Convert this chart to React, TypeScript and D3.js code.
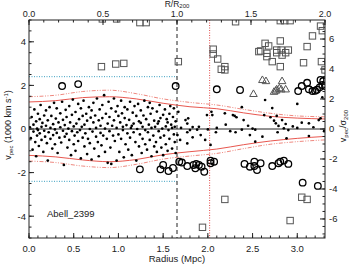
import * as d3 from "d3";

// member galaxies: [radius Mpc, v_pec in 1000 km/s]
const members: [number, number][] = [
  [0.01,0.08],[0.02,-0.42],[0.03,0.55],[0.04,-0.95],[0.05,0.2],[0.05,-0.12],[0.06,0.9],[0.07,-0.6],[0.08,0.35],[0.08,-1.25],[0.09,0.02],[0.09,-0.3],[0.1,0.7],[0.1,-0.05],
  [0.11,-0.78],[0.12,0.45],[0.12,-0.2],[0.13,1.1],[0.14,0.1],[0.14,-0.5],[0.15,0.28],[0.16,-1.05],[0.17,0.62],[0.17,-0.08],[0.18,-0.35],[0.19,0.85],[0.19,0.15],[0.2,-0.65],
  [0.21,0.4],[0.21,-1.45],[0.22,-0.15],[0.23,1.0],[0.24,0.05],[0.24,-0.45],[0.25,0.6],[0.26,-0.9],[0.27,0.22],[0.27,-0.28],[0.28,1.2],[0.29,-0.02],[0.29,-0.7],[0.3,0.48],
  [0.31,-0.18],[0.31,0.95],[0.32,-1.1],[0.33,0.3],[0.34,-0.4],[0.35,0.72],[0.35,0.08],[0.36,-0.62],[0.37,1.25],[0.38,-0.08],[0.38,0.42],[0.39,-1.65],[0.4,0.18],[0.4,-0.35],
  [0.41,0.88],[0.42,-0.22],[0.42,0.55],[0.43,-0.85],[0.44,0.02],[0.45,1.05],[0.45,-0.5],[0.46,0.3],[0.47,-1.2],[0.48,0.65],[0.48,-0.1],[0.49,1.35],[0.5,-0.7],[0.5,0.12],
  [0.51,-0.3],[0.52,0.78],[0.52,-1.0],[0.53,0.25],[0.54,-0.15],[0.55,1.15],[0.55,-0.55],[0.56,0.45],[0.57,-0.05],[0.58,0.95],[0.58,-1.35],[0.59,0.1],[0.6,-0.4],[0.6,0.6],
  [0.61,1.3],[0.62,-0.8],[0.62,0.2],[0.63,-0.2],[0.64,0.7],[0.65,-1.15],[0.65,0.38],[0.66,-0.45],[0.67,1.0],[0.68,0.0],[0.68,-0.65],[0.69,0.52],[0.7,-1.4],[0.7,0.85],
  [0.71,-0.12],[0.72,1.2],[0.72,0.3],[0.73,-0.9],[0.74,0.62],[0.75,-0.35],[0.75,0.05],[0.76,1.4],[0.77,-0.6],[0.78,0.4],[0.78,-1.25],[0.79,0.9],[0.8,-0.18],[0.8,0.15],
  [0.81,-0.75],[0.82,1.1],[0.82,0.5],[0.83,-0.3],[0.84,1.55],[0.85,0.02],[0.85,-1.05],[0.86,0.7],[0.87,-0.45],[0.88,0.25],[0.88,-1.55],[0.89,1.25],[0.9,-0.1],[0.9,0.55],
  [0.91,-0.85],[0.92,0.95],[0.92,-1.6],[0.93,0.15],[0.94,-0.3],[0.95,1.4],[0.95,0.4],[0.96,-0.55],[0.97,0.8],[0.98,-1.45],[0.98,0.05],[0.99,1.05],[1.0,-0.25],[1.0,0.6],
  [1.01,-1.05],[1.02,0.3],[1.03,1.3],[1.03,-0.45],[1.04,0.72],[1.05,-0.05],[1.06,-1.3],[1.07,0.5],[1.07,1.0],[1.08,-0.7],[1.09,0.18],[1.1,-0.2],[1.1,0.9],[1.05,0.1],
  [1.11,-0.95],[1.12,0.42],[1.13,1.25],[1.13,-0.4],[1.14,0.05],[1.15,-1.2],[1.16,0.75],[1.17,-0.15],[1.17,0.25],[1.18,1.05],[1.19,-0.6],[1.2,0.6],[1.2,-1.45],[1.15,0.15],
  [1.21,0.0],[1.22,1.15],[1.23,-0.8],[1.23,0.35],[1.24,-0.25],[1.25,0.85],[1.26,-1.1],[1.27,0.1],[1.27,-0.45],[1.28,0.62],[1.29,1.3],[1.3,-0.05],[1.3,-0.7],[1.25,0.28],
  [1.31,0.45],[1.32,-0.95],[1.33,1.0],[1.33,-0.15],[1.34,0.2],[1.35,-0.5],[1.36,0.7],[1.37,-1.25],[1.37,0.05],[1.38,0.95],[1.39,-0.3],[1.4,0.38],[1.4,-0.8],[1.35,1.2],
  [1.41,0.1],[1.42,-0.6],[1.43,0.8],[1.43,-1.05],[1.44,0.25],[1.45,-0.1],[1.46,1.1],[1.47,-0.4],[1.47,0.5],[1.48,-0.85],[1.49,0.02],[1.5,0.65],[1.5,-1.2],[1.45,0.35],
  [1.51,-0.3],[1.52,0.9],[1.53,0.12],[1.53,-0.7],[1.54,0.45],[1.55,-1.0],[1.56,-0.05],[1.57,0.7],[1.57,-0.45],[1.58,1.05],[1.59,0.2],[1.6,-0.9],[1.6,0.05],[1.55,0.3],
  [1.61,0.55],[1.62,-0.25],[1.62,0.95],[1.63,-0.6],[1.63,0.1],[1.64,-1.1],[1.64,0.35],
  // outside R200
  [1.67,0.79],[1.75,0.41],[1.78,0.49],[1.77,0.25],[1.83,0.09],[1.99,0.64],[2.04,0.79],[2.05,0.64],
  [2.19,0.72],[2.28,0.64],[2.3,0.6],[2.32,0.54],[2.38,1.0],[2.4,0.41],[2.64,1.33],[2.63,0.64],
  [2.7,0.54],[2.72,0.96],[2.74,0.38],[2.76,0.26],[2.77,0.6],[2.79,0.14],[2.83,0.41],[2.87,0.23],
  [3.0,1.15],[3.05,0.29],[3.13,0.26],[3.24,0.41],[3.28,1.45],[3.26,0.49],
  [1.7,0.05],[1.8,-0.05],[1.9,0.1],[2.0,-0.02],[2.1,0.05],[2.25,-0.1],[2.5,0.02],[2.85,0.03],[2.9,-0.05],[3.0,0.05],
  [1.66,-0.28],[1.77,-0.15],[1.83,-0.38],[1.88,-0.03],[1.92,-0.28],[1.97,-0.5],[2.03,-0.73],[1.77,-0.66],
  [1.69,-0.5],[2.09,-0.15],[2.31,-0.15],[2.38,-0.03],[2.47,-0.28],[2.53,-0.58],[2.61,-0.35],[2.78,-0.15],
  [2.88,-0.43],[3.13,-0.32],[2.53,-0.03],[2.2,0.2],[2.45,0.15],[2.95,0.12],[3.18,0.08],[3.3,-0.1],
];

const circles: [number, number][] = [
  [0.37,1.97],[0.55,2.06],[1.64,1.97],[2.1,1.82],[2.36,1.79],
  [3.01,1.74],[3.05,1.97],[3.11,2.12],[3.13,1.82],[3.17,1.74],[3.2,1.75],[3.22,1.8],[3.25,1.91],[3.28,2.02],[3.26,2.25],[3.29,2.2],[3.31,1.97],
  [1.24,-1.85],[1.47,-1.85],[1.5,-1.65],[1.56,-1.93],[1.61,-1.79],
  [1.68,-1.5],[1.71,-1.54],[1.77,-1.7],[1.84,-1.65],[1.87,-1.6],[1.86,-1.8],[1.9,-1.65],[1.93,-1.73],[1.96,-1.96],
  [2.03,-1.57],[2.03,-1.45],[2.07,-1.5],[2.41,-1.6],[2.47,-1.73],[2.52,-1.5],[2.52,-1.7],[2.55,-1.88],[2.59,-1.57],
  [2.72,-1.7],[2.79,-1.57],[2.81,-1.5],[2.85,-1.45],[2.9,-1.6],[3.06,-2.46],[3.23,-2.61],
];

const squares: [number, number][] = [
  [0.81,2.86],[0.97,2.98],[1.06,3.01],[1.24,4.88],[1.31,4.88],[0.82,5.05],[0.98,5.05],
  [1.67,3.09],[2.06,3.66],[2.06,3.44],[2.11,3.21],[2.15,2.74],[2.19,2.86],[2.19,2.71],[2.31,4.92],
  [2.59,3.58],[2.57,3.55],[2.64,3.93],[2.68,3.81],[2.66,3.47],[2.66,3.32],[2.72,3.09],[2.77,3.62],
  [2.77,3.5],[2.81,4.04],[2.82,3.62],[2.83,3.39],[2.87,3.5],[2.9,3.62],[2.81,2.86],[2.81,4.97],
  [2.86,4.97],[2.92,4.97],[3.07,3.04],[3.11,3.78],[3.17,4.27],[3.26,4.72],[3.28,4.51],[3.27,3.09],[3.31,2.71],
  [2.19,-3.23],[1.94,-4.51],[2.92,-4.2],[3.05,-3.13],[3.11,-3.23],
];

const triangles: [number, number][] = [
  [2.61,2.25],[2.65,2.2],[2.51,1.61],[2.74,1.71],[2.77,1.82],[2.8,1.87],[2.83,2.2],[2.82,1.82],[2.87,1.82],[2.76,1.76],
];

// caustic-like envelopes
const envR = [0, 0.3, 0.6, 0.9, 1.2, 1.5, 1.8, 2.1, 2.4, 2.7, 3.0, 3.31];
const upperSolid = [1.24, 1.3, 1.44, 1.48, 1.38, 1.18, 1.02, 0.93, 0.74, 0.58, 0.5, 0.46];
const upperDash = [1.48, 1.55, 1.72, 1.78, 1.62, 1.38, 1.22, 1.1, 0.9, 0.72, 0.6, 0.56];
const lowerSolid = [-1.21, -1.28, -1.42, -1.5, -1.4, -1.18, -1.04, -0.92, -0.72, -0.55, -0.43, -0.34];
const lowerDash = [-1.47, -1.54, -1.7, -1.77, -1.62, -1.38, -1.24, -1.12, -0.9, -0.7, -0.58, -0.5];

const r200 = 1.655;
const rRed = 2.02;
const vLimit = 2.4;

const bottomTicks = [0, 0.5, 1.0, 1.5, 2.0, 2.5, 3.0];
const topTicks = [0, 0.5, 1.0, 1.5, 2.0];
const leftTicks = [-4, -2, 0, 2, 4];
const rightTicks = [-6, -4, -2, 0, 2, 4, 6];

const L = 29, R = 325, T = 20, B = 238;
const font = "'Liberation Sans', Arial, Helvetica, sans-serif";
const ink = "#222";

export default function App() {
  const x = d3.scaleLinear().domain([0, 3.31]).range([L, R]);
  const xTop = d3.scaleLinear().domain([0, 2]).range([L, R]);
  const y = d3.scaleLinear().domain([-5, 5]).range([B, T]);
  const yR = d3.scaleLinear().domain([-7.27, 7.27]).range([B, T]);

  const line = (vals: number[]) =>
    d3.line<number>().x((_, i) => x(envR[i])).y((d) => y(d)).curve(d3.curveMonotoneX)(vals) || "";

  const minorB = d3.range(0, 3.31, 0.1);
  const minorT = d3.range(0, 2.01, 0.1);
  const minorL = d3.range(-5, 5.01, 0.5);
  const minorR = d3.range(-7, 7.01, 0.5);

  const tri = (cx: number, cy: number) => `M${cx},${cy - 4}L${cx + 3.8},${cy + 2.6}L${cx - 3.8},${cy + 2.6}Z`;

  return (
    <svg width={349} height={265} style={{ position: "absolute", left: 0, top: 0, background: "#fff" }} fontFamily={font}>
      <defs>
        <clipPath id="plot">
          <rect x={L} y={T} width={R - L} height={B - T} />
        </clipPath>
      </defs>
      <g clipPath="url(#plot)">
        <line x1={L} x2={R} y1={y(0)} y2={y(0)} stroke={ink} strokeWidth={1} />
        <line x1={L} x2={x(r200)} y1={y(vLimit)} y2={y(vLimit)} stroke="#3a9fc0" strokeDasharray="1,1.5" />
        <line x1={L} x2={x(r200)} y1={y(-vLimit)} y2={y(-vLimit)} stroke="#3a9fc0" strokeDasharray="1,1.5" />
        <line x1={x(r200)} x2={x(r200)} y1={T} y2={B} stroke={ink} strokeDasharray="4,3" />
        <line x1={x(rRed)} x2={x(rRed)} y1={T} y2={B} stroke="#e04848" strokeDasharray="1,1.5" />
        <path d={line(upperSolid)} fill="none" stroke="#e8574f" strokeWidth={1} />
        <path d={line(lowerSolid)} fill="none" stroke="#e8574f" strokeWidth={1} />
        <path d={line(upperDash)} fill="none" stroke="#ec7a70" strokeWidth={0.9} strokeDasharray="4,1.5,1,1.5,1,1.5" />
        <path d={line(lowerDash)} fill="none" stroke="#ec7a70" strokeWidth={0.9} strokeDasharray="4,1.5,1,1.5,1,1.5" />
        {members.map((d, i) => (
          <circle key={i} cx={x(d[0])} cy={y(d[1])} r={1.35} fill="#000" />
        ))}
        {circles.map((d, i) => (
          <circle key={i} cx={x(d[0])} cy={y(d[1])} r={3.3} fill="none" stroke="#000" strokeWidth={1.3} />
        ))}
        {squares.map((d, i) => (
          <rect key={i} x={x(d[0]) - 3.2} y={y(d[1]) - 3.2} width={6.4} height={6.4} fill="none" stroke="#555" strokeWidth={1} />
        ))}
        {triangles.map((d, i) => (
          <path key={i} d={tri(x(d[0]), y(d[1]))} fill="none" stroke="#555" strokeWidth={1} />
        ))}
      </g>

      <rect x={L} y={T} width={R - L} height={B - T} fill="none" stroke={ink} strokeWidth={1} />

      {/* bottom axis */}
      {minorB.map((d, i) => (
        <line key={i} x1={x(d)} x2={x(d)} y1={B} y2={B - 2.5} stroke={ink} />
      ))}
      {bottomTicks.map((d, i) => (
        <g key={i}>
          <line x1={x(d)} x2={x(d)} y1={B} y2={B - 5} stroke={ink} />
          <text x={x(d)} y={252} fontSize={9.5} textAnchor="middle" fill={ink}>{d.toFixed(1)}</text>
        </g>
      ))}
      <text x={(L + R) / 2} y={262} fontSize={9.5} textAnchor="middle" fill={ink}>Radius (Mpc)</text>

      {/* top axis */}
      {minorT.map((d, i) => (
        <line key={i} x1={xTop(d)} x2={xTop(d)} y1={T} y2={T + 2.5} stroke={ink} />
      ))}
      {topTicks.map((d, i) => (
        <g key={i}>
          <line x1={xTop(d)} x2={xTop(d)} y1={T} y2={T + 5} stroke={ink} />
          <text x={xTop(d)} y={17} fontSize={9} textAnchor="middle" fill={ink}>{d.toFixed(1)}</text>
        </g>
      ))}
      <text x={(L + R) / 2} y={6.5} fontSize={8.5} textAnchor="middle" fill={ink}>
        R/R<tspan fontSize={6} dy={1.3}>200</tspan>
      </text>

      {/* left axis */}
      {minorL.map((d, i) => (
        <line key={i} x1={L} x2={L + 2.5} y1={y(d)} y2={y(d)} stroke={ink} />
      ))}
      {leftTicks.map((d, i) => (
        <g key={i}>
          <line x1={L} x2={L + 5} y1={y(d)} y2={y(d)} stroke={ink} />
          <text x={26} y={y(d) + 3.4} fontSize={9.5} textAnchor="end" fill={ink}>{d}</text>
        </g>
      ))}
      <text transform={`translate(11,${y(0) - 4}) rotate(-90)`} fontSize={9} textAnchor="middle" fill={ink}>
        v<tspan fontSize={6} dy={1.5}>pec</tspan>
        <tspan dy={-1.5}> (1000 km s</tspan>
        <tspan fontSize={6} dy={-3}>-1</tspan>
        <tspan dy={3}>)</tspan>
      </text>

      {/* right axis */}
      {minorR.map((d, i) => (
        <line key={i} x1={R} x2={R - 2.5} y1={yR(d)} y2={yR(d)} stroke={ink} />
      ))}
      {rightTicks.map((d, i) => (
        <g key={i}>
          <line x1={R} x2={R - 5} y1={yR(d)} y2={yR(d)} stroke={ink} />
          <text x={329} y={yR(d) + 3.4} fontSize={9.5} textAnchor="start" fill={ink}>{d}</text>
        </g>
      ))}
      <text transform={`translate(346,${y(0) - 3}) rotate(-90)`} fontSize={9} textAnchor="middle" fill={ink}>
        v<tspan fontSize={6} dy={1.5}>pec</tspan>
        <tspan dy={-1.5}>/σ</tspan>
        <tspan fontSize={6} dy={1.5}>200</tspan>
      </text>

      <text x={47} y={217} fontSize={9.5} fill={ink}>Abell_2399</text>
    </svg>
  );
}
